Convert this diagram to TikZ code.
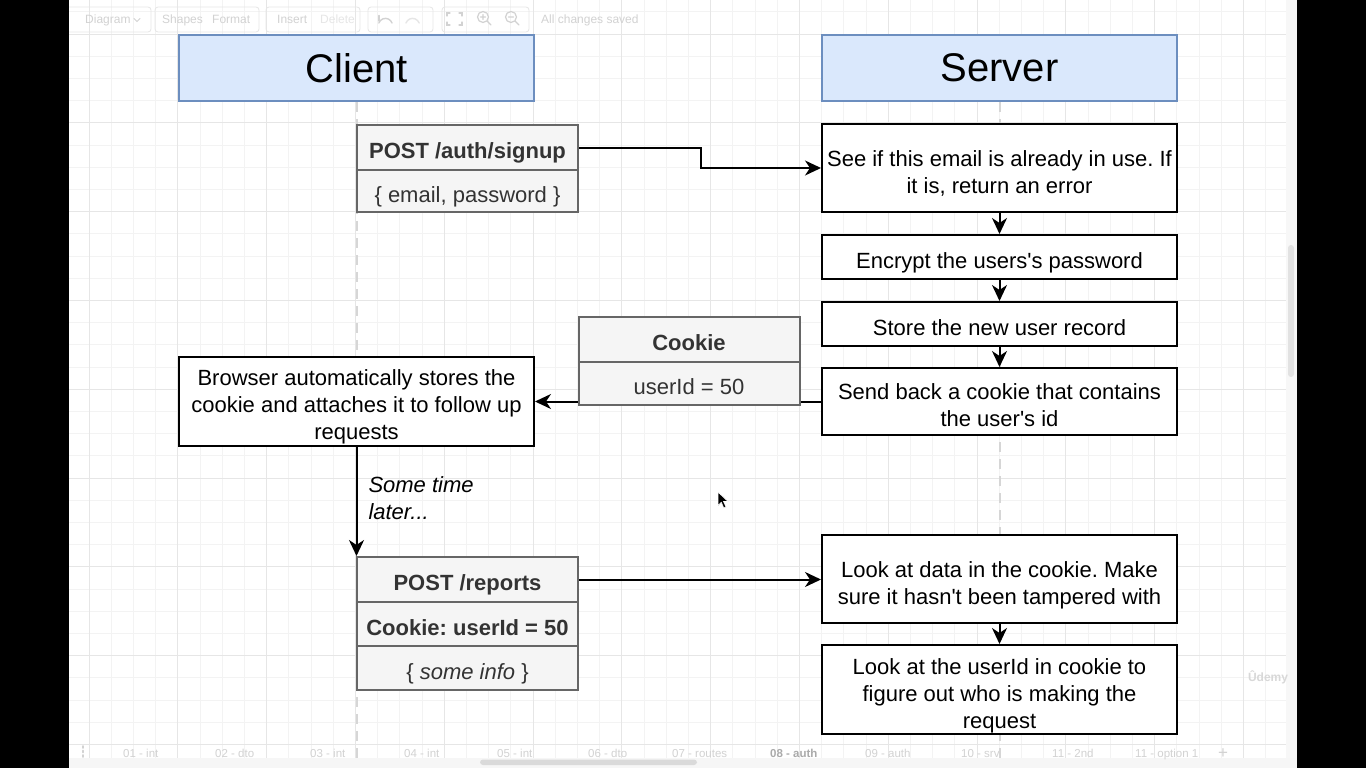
\documentclass[tikz,border=0pt]{standalone}
\usepackage{fontspec}
\setmainfont{Liberation Sans}
\usetikzlibrary{arrows.meta}

\definecolor{bluefill}{HTML}{DAE8FC}
\definecolor{bluedraw}{HTML}{6C8EBF}
\definecolor{grayfill}{HTML}{F5F5F5}
\definecolor{graydraw}{HTML}{666666}
\definecolor{graytext}{HTML}{333333}
\definecolor{gridminor}{HTML}{F3F3F3}
\definecolor{gridmajor}{HTML}{E6E6E6}
\definecolor{uitext}{HTML}{D2D2D2}
\definecolor{uifaint}{HTML}{E6E6E6}
\definecolor{uibold}{HTML}{AAAAAA}
\definecolor{lifegray}{HTML}{D6D6D6}
\definecolor{tabstrip}{HTML}{F6F6F6}
\definecolor{thumbgray}{HTML}{DADADA}
\definecolor{scrollstrip}{HTML}{F7F7F7}
\definecolor{vthumb}{HTML}{E2E2E2}
\definecolor{markgray}{HTML}{D8D8D8}

% invisible struts that set where the lines sit inside a box
\newcommand\linetop[1]{\rule{0pt}{#1}}
\newcommand\linebot{\rule[-6pt]{0pt}{6pt}}
\newcommand\firstline{\linetop{29pt}}
\newcommand\apos{\textquotesingle}

\pgfdeclarelayer{canvas}
\pgfdeclarelayer{lanes}
\pgfsetlayers{canvas,lanes,main}

\frenchspacing
\begin{document}
\begin{tikzpicture}[x=1pt,y=-1pt,
  lane/.style={draw=bluedraw, fill=bluefill, line width=2pt,
    minimum width=355pt, minimum height=66pt, inner sep=0pt,
    font=\fontsize{40}{46}\selectfont},
  stepbox/.style={draw=black, fill=white, line width=2pt,
    minimum width=355pt, inner sep=0pt, align=center,
    font=\fontsize{22}{27}\selectfont,
    execute at begin node=\linetop{29pt}, execute at end node=\linebot},
  field/.style={draw=graydraw, fill=grayfill, text=graytext, line width=2pt,
    minimum width=221pt, inner sep=0pt, align=center,
    font=\fontsize{22}{27}\selectfont,
    execute at begin node=\linetop{28pt}, execute at end node=\linebot},
  fieldhead/.style={field, font=\fontsize{22}{27}\selectfont\bfseries,
    execute at begin node=\linetop{25pt}},
  flow/.style={line width=2pt, -{Stealth[length=16pt,width=15pt,inset=5pt]}},
  lifeline/.style={draw=lifegray, line width=2pt, dash pattern=on 10pt off 7pt},
  uilabel/.style={text=uitext, inner sep=0pt, anchor=base west,
    font=\fontsize{12}{14}\selectfont},
  tablabel/.style={text=uitext, inner sep=0pt, anchor=base west,
    font=\fontsize{11.5}{14}\selectfont},
  uiicon/.style={draw=uitext, line width=1.4pt, line cap=round},
  uibutton/.style={draw=uifaint, line width=0.8pt, rounded corners=3pt}
]
\useasboundingbox (0,0) rectangle (1366,768);

% ---------------- canvas: paper, grid, window chrome ----------------
\begin{pgfonlayer}{canvas}
  \fill[white] (0,0) rectangle (1366,768);
  % minor grid
  \foreach \i in {0,...,55}
    \draw[gridminor, line width=1pt] ({66.9+22.2*\i},0) -- ({66.9+22.2*\i},768);
  \foreach \j in {0,...,34}
    \draw[gridminor, line width=1pt] (69,{11.9+22.2*\j}) -- (1297,{11.9+22.2*\j});
  % major grid
  \foreach \i in {1,5,...,53}
    \draw[gridmajor, line width=1pt] ({66.9+22.2*\i},0) -- ({66.9+22.2*\i},768);
  \foreach \j in {1,5,...,33}
    \draw[gridmajor, line width=1pt] (69,{11.9+22.2*\j}) -- (1297,{11.9+22.2*\j});

  % toolbar
  \draw[uibutton] (66,7) rectangle (151,32);
  \draw[uibutton] (155,7) rectangle (259,32);
  \draw[uibutton] (266,7) rectangle (360,32);
  \draw[uibutton] (368,7) rectangle (433,32);
  \draw[uibutton] (442,7) rectangle (529,32);
  \node[uilabel] (tbDiagram) at (85,24) {Diagram};
  \draw[uiicon, line width=1pt] (134,18.5) -- (137,21.5) -- (140,18.5);
  \node[uilabel] (tbShapes) at (162,24) {Shapes};
  \node[uilabel] (tbFormat) at (212,24) {Format};
  \node[uilabel] (tbInsert) at (277,24) {Insert};
  \node[uilabel, text=uifaint] (tbDelete) at (320,24) {Delete};
  % undo / redo
  \draw[uiicon] (392,23) arc[start angle=20, end angle=160, radius=7pt];
  \draw[uiicon] (379,21) -- (379,15.5);
  \draw[uiicon, draw=uifaint] (406,23) arc[start angle=160, end angle=20, radius=7pt];
  % fit page
  \draw[uiicon, line width=1.2pt] (447,16) -- (447,13) -- (450,13)
        (459,13) -- (462,13) -- (462,16)
        (462,22) -- (462,25) -- (459,25)
        (450,25) -- (447,25) -- (447,22);
  % zoom in / zoom out
  \draw[uiicon, line width=1.2pt] (483,17) circle[radius=5.5pt] (487,21) -- (491,25)
        (480.5,17) -- (485.5,17) (483,14.5) -- (483,19.5);
  \draw[uiicon, line width=1.2pt] (511,17) circle[radius=5.5pt] (515,21) -- (519,25)
        (508.5,17) -- (513.5,17);
  \node[uilabel] (tbSaved) at (541,24) {All changes saved};

  % page tabs along the bottom
  \fill[tabstrip] (69,758) rectangle (1297,768);
  \fill[thumbgray, rounded corners=3pt] (480,759.5) rectangle (697,765);
  \draw[uiicon, line width=1.6pt, dash pattern=on 2pt off 2.5pt] (83,746) -- (83,758);
  \node[tablabel] (tab1) at (123,757) {01 - int};
  \node[tablabel] (tab2) at (215,757) {02 - dto};
  \node[tablabel] (tab3) at (310,757) {03 - int};
  \node[tablabel] (tab4) at (404,757) {04 - int};
  \node[tablabel] (tab5) at (497,757) {05 - int};
  \node[tablabel] (tab6) at (588,757) {06 - dto};
  \node[tablabel] (tab7) at (672,757) {07 - routes};
  \node[tablabel, text=uibold, font=\fontsize{11.5}{14}\selectfont\bfseries] (tab8) at (770,757) {08 - auth};
  \node[tablabel] (tab9) at (865,757) {09 - auth};
  \node[tablabel] (tab10) at (961,757) {10 - srv};
  \node[tablabel] (tab11) at (1052,757) {11 - 2nd};
  \node[tablabel] (tab12) at (1135,757) {11 - option 1};
  \node[tablabel, font=\fontsize{17}{18}\selectfont] (tabAdd) at (1218,758) {+};

  % right-hand scroll strip
  \fill[scrollstrip] (1286,0) rectangle (1297,758);
  \fill[vthumb, rounded corners=3pt] (1288,245) rectangle (1294,377);

  % watermark
  \node[text=markgray, inner sep=0pt, font=\fontsize{12}{14}\selectfont\bfseries] (mark) at (1268,677) {Ûdemy};
\end{pgfonlayer}

% ---------------- lanes ----------------
\node[lane] (client) at (356.5,68) {Client};
\node[lane] (server) at (999.5,68) {Server};
\coordinate (clientEnd) at (356.5,762);
\coordinate (serverEnd) at (999.5,762);
\begin{pgfonlayer}{lanes}
  \draw[lifeline] (client.south) -- (clientEnd);
  \draw[lifeline] (server.south) -- (serverEnd);
\end{pgfonlayer}

% ---------------- sign-up request ----------------
\node[fieldhead, minimum height=45pt] (signupHead) at (467.5,147.5) {POST /auth/signup};
\node[field, minimum height=42pt] (signupBody) at (467.5,191) {\{ email, password \}};

% ---------------- server steps ----------------
\node[stepbox, minimum height=88pt] (s1) at (999.5,168) {\firstline See if this email is already in use. If\\it is, return an error\linebot};
\node[stepbox, minimum height=44pt] (s2) at (999.5,257) {Encrypt the users\apos s password};
\node[stepbox, minimum height=44pt] (s3) at (999.5,324) {Store the new user record};
\node[stepbox, minimum height=67pt] (s4) at (999.5,401.5) {\firstline Send back a cookie that contains\\the user\apos s id\linebot};

\node[stepbox, minimum height=88pt] (browser) at (356.5,401) {\firstline Browser automatically stores the\\cookie and attaches it to follow up\\requests\linebot};

% ---------------- follow-up request ----------------
\node[fieldhead, minimum height=45pt] (repHead) at (467.5,579.5) {POST /reports};
\node[fieldhead, minimum height=44pt] (repCookie) at (467.5,624) {Cookie: userId = 50};
\node[field, minimum height=44pt] (repInfo) at (467.5,668) {\{ \textit{some info} \}};

\node[stepbox, minimum height=88pt] (s5) at (999.5,579) {\firstline Look at data in the cookie. Make\\sure it hasn\apos t been tampered with\linebot};
\node[stepbox, minimum height=89pt] (s6) at (999.5,689.5) {\firstline Look at the userId in cookie to\\figure out who is making the\\request\linebot};

% ---------------- connectors ----------------
\draw[flow] (signupHead.east) -- ++(122,0) |- (s1.west);
\draw[flow] (s1.south) -- (s2.north);
\draw[flow] (s2.south) -- (s3.north);
\draw[flow] (s3.south) -- (s4.north);
\draw[flow] (s4.west) -- (s4.west -| browser.east);
\draw[flow] (browser.south) --
  node[anchor=west, xshift=11pt, yshift=3pt, inner sep=0pt, align=left,
       font=\fontsize{22}{27}\selectfont\itshape] (later) {Some time\\later...}
  (browser.south |- repHead.north);
\draw[flow] (repHead.east) -- (repHead.east -| s5.west);
\draw[flow] (s5.south) -- (s6.north);

% cookie sent back, drawn over its connector
\node[fieldhead, minimum height=45pt] (cookieHead) at (689,339.5) {Cookie};
\node[field, minimum height=43pt] (cookieBody) at (689,383.5) {userId = 50};

% mouse pointer
\fill[black, draw=white, line width=0.6pt] (718,492) -- (718,505.5) -- (721.3,502.3)
  -- (723.8,508) -- (726,507) -- (723.5,501.5) -- (728,501.5) -- cycle;

% side bars
\fill[black] (0,0) rectangle (69,768);
\fill[black] (1297,0) rectangle (1366,768);
\end{tikzpicture}
\end{document}
